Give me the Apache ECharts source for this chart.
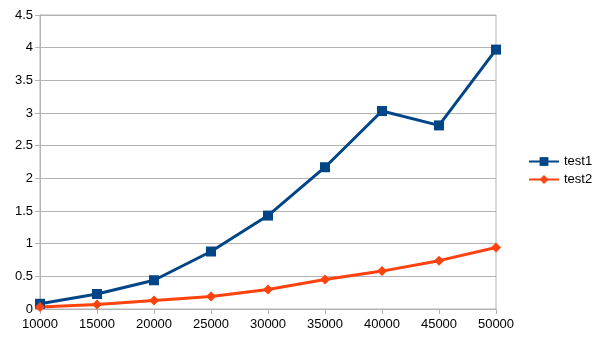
<!DOCTYPE html>
<html>
<head>
<meta charset="utf-8">
<script src="https://cdn.jsdelivr.net/npm/echarts@6/dist/echarts.min.js"></script>
<style>
  html, body { margin: 0; padding: 0; background: #fff; }
  #chart { width: 605px; height: 340px; }
</style>
</head>
<body>
<div id="chart"></div>
<script>
// Problem sizes on the x axis
const categories = ['10000', '15000', '20000', '25000', '30000', '35000', '40000', '45000', '50000'];
// Measured values per run
const test1 = [0.08, 0.23, 0.44, 0.88, 1.43, 2.17, 3.03, 2.81, 3.97];
const test2 = [0.03, 0.07, 0.13, 0.19, 0.30, 0.45, 0.58, 0.74, 0.94];

const gridColor = '#b3b3b3';
const labelFont = { fontFamily: 'Liberation Sans', fontSize: 13, color: '#000' };

const chart = echarts.init(document.getElementById('chart'), null, { renderer: 'canvas' });
chart.setOption({
  animation: false,
  backgroundColor: '#fff',
  grid: {
    left: 40, right: 109, top: 15, bottom: 31,
    show: true, borderColor: gridColor, borderWidth: 1
  },
  legend: {
    orient: 'vertical',
    left: 523, top: 150,
    itemWidth: 30, itemHeight: 11, itemGap: 5,
    textStyle: { fontFamily: 'Liberation Sans', fontSize: 13, color: '#000' },
    data: ['test1', 'test2']
  },
  xAxis: {
    type: 'category',
    data: categories,
    boundaryGap: false,
    axisLine: { lineStyle: { color: gridColor } },
    axisTick: { show: true, alignWithLabel: true, length: 5, lineStyle: { color: gridColor } },
    axisLabel: Object.assign({ margin: 9, interval: 0 }, labelFont),
    splitLine: { show: false }
  },
  yAxis: {
    type: 'value',
    min: 0, max: 4.5, interval: 0.5,
    axisLine: { show: true, lineStyle: { color: gridColor } },
    axisTick: { show: true, length: 5, lineStyle: { color: gridColor } },
    axisLabel: Object.assign({ margin: 7 }, labelFont),
    splitLine: { show: true, lineStyle: { color: gridColor } }
  },
  series: [
    {
      name: 'test1', type: 'line', data: test1,
      symbol: 'rect', symbolSize: 10,
      itemStyle: { color: '#004586' },
      lineStyle: { color: '#004586', width: 3 }
    },
    {
      name: 'test2', type: 'line', data: test2,
      symbol: 'diamond', symbolSize: 10,
      itemStyle: { color: '#ff420e' },
      lineStyle: { color: '#ff420e', width: 3 }
    }
  ]
});
</script>
</body>
</html>
